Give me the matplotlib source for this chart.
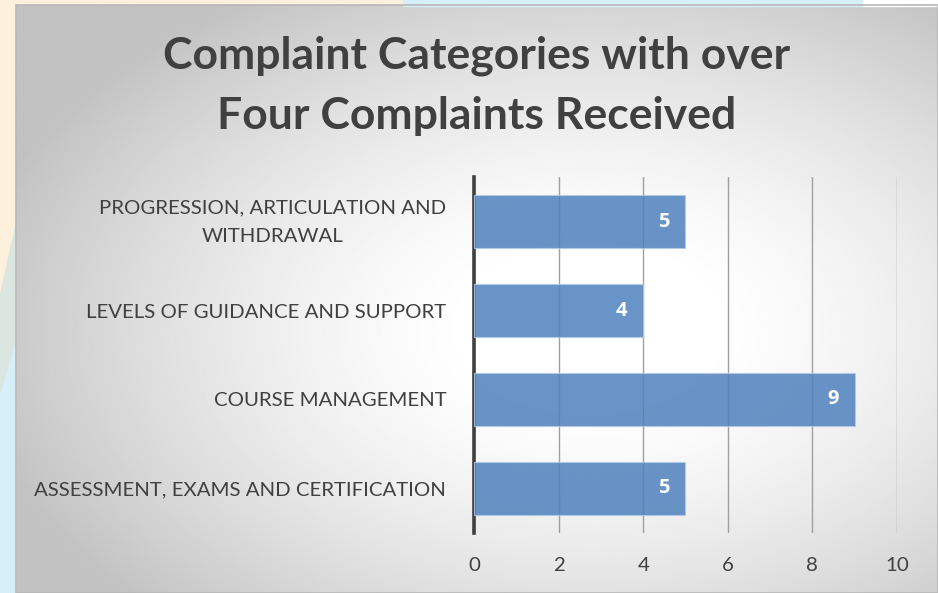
import numpy as np
import matplotlib.pyplot as plt
import matplotlib.transforms as mtransforms
from matplotlib.patches import Polygon, Rectangle

categories = [
    "ASSESSMENT, EXAMS AND CERTIFICATION",
    "COURSE MANAGEMENT",
    "LEVELS OF GUIDANCE AND SUPPORT",
    "PROGRESSION, ARTICULATION AND\nWITHDRAWAL",
]
complaints = [5, 9, 4, 5]
x_ticks = [0, 2, 4, 6, 8, 10]

TITLE = "Complaint Categories with over\nFour Complaints Received"
TEXT = "#404040"
FONT = "Lato"

fig = plt.figure(figsize=(9.38, 5.93), dpi=100)
fig.patch.set_facecolor("#fdf1de")

# slide bits showing around the chart panel
fig.patches.append(Polygon([[0, 0], [0, 0.50], [0.017, 0.62], [0.017, 0]], closed=True,
                           transform=fig.transFigure, color="#dce6e0", zorder=0))
fig.patches.append(Polygon([[0, 0], [0, 0.33], [0.017, 0.42], [0.017, 0]], closed=True,
                           transform=fig.transFigure, color="#d6eff8", zorder=0))
fig.patches.append(Rectangle((0.43, 0.99), 0.49, 0.01, transform=fig.transFigure,
                             color="#d6eff8", zorder=0))
fig.patches.append(Rectangle((0.92, 0.99), 0.08, 0.01, transform=fig.transFigure,
                             color="white", zorder=0))

# chart panel with radial gradient
bg = fig.add_axes([0.017, 0.0, 0.983, 0.992], zorder=0)
h, w = 300, 470
yy, xx = np.mgrid[0:h, 0:w]
cx, cy = 0.62 * w, 0.55 * h
r = np.sqrt(((xx - cx) / w) ** 2 + ((yy - cy) / h) ** 2)
r = np.clip((r - 0.12) / 0.56, 0, 1)
shade = 1.0 - 0.24 * r ** 1.4
bg.imshow(shade, cmap="gray", vmin=0, vmax=1, aspect="auto", interpolation="bilinear")
bg.set_axis_off()
fig.patches.append(Rectangle((0.017, 0.0), 0.983, 0.992, transform=fig.transFigure,
                             fill=False, edgecolor="#b8b8b8", linewidth=1.2, zorder=1))

ax = fig.add_axes([0.5053, 0.1012, 0.4510, 0.6003], zorder=2)
ax.patch.set_alpha(0)
y = np.arange(len(categories))
bars = ax.barh(y, complaints, height=0.59, color="#4f81bd", alpha=0.85,
               edgecolor="#b4cbe8", linewidth=0.8, zorder=3)
for bar, v in zip(bars, complaints):
    ax.text(bar.get_width() - 0.52, bar.get_y() + bar.get_height() / 2, str(v),
            ha="center", va="center", color="white", fontsize=14.5,
            fontweight="bold", family="Open Sans", zorder=4)

ax.set_xlim(0, 10)
ax.set_ylim(-0.5, 3.5)
ax.set_xticks(x_ticks)
ax.set_yticks(y)
ax.set_yticklabels(categories, linespacing=1.85, multialignment="center")
ax.grid(axis="x", color="#a0a0a0", linewidth=1.0, zorder=1)
ax.set_axisbelow(True)
for s in ["top", "right", "bottom"]:
    ax.spines[s].set_visible(False)
ax.spines["left"].set_color(TEXT)
ax.spines["left"].set_linewidth(2.6)
ax.tick_params(axis="both", length=0, labelcolor=TEXT, labelsize=14.7)
ax.tick_params(axis="y", pad=20)
ax.tick_params(axis="x", pad=17)
for lbl in ax.get_xticklabels() + ax.get_yticklabels():
    lbl.set_family(FONT)

# the two-line label sits a little high in the original
wrapped = ax.get_yticklabels()[-1]
wrapped.set_transform(wrapped.get_transform() +
                      mtransforms.ScaledTranslation(0, 5 / 72, fig.dpi_scale_trans))

fig.text(0.508, 0.855, TITLE, ha="center", va="center", fontsize=32, fontweight="bold",
         color=TEXT, family=FONT, linespacing=1.6)

fig.savefig("out.png", dpi=100)
